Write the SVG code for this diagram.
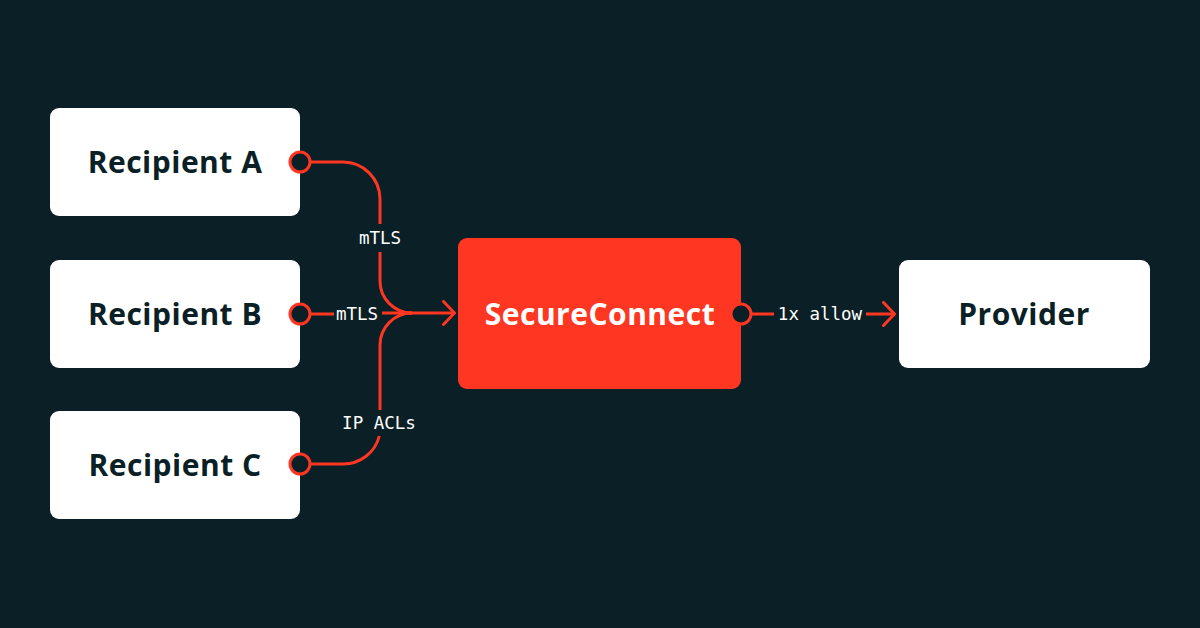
<svg xmlns="http://www.w3.org/2000/svg" width="1200" height="628" viewBox="0 0 1200 628">
<defs>
<style>
.box{fill:#ffffff}
.lbl{font-family:"Open Sans",Inter,"Liberation Sans",sans-serif;font-weight:700;font-size:30px;letter-spacing:0.5px;fill:#0b1f26;text-anchor:middle;dominant-baseline:central}
.wire{fill:none;stroke:#ff3621;stroke-width:3;stroke-linecap:butt;stroke-linejoin:round}
.port{fill:#0b1f26;stroke:#ff3621;stroke-width:3}
.mono{font-family:"DejaVu Sans Mono","Liberation Mono",monospace;font-size:17.5px;fill:#ffffff;text-anchor:middle;dominant-baseline:central}
</style>
<marker id="arr" viewBox="0 0 14 26" refX="13" refY="13" markerWidth="14" markerHeight="26" markerUnits="userSpaceOnUse" orient="auto">
<path d="M1.5,1.5 L12.5,13 L1.5,24.5" fill="none" stroke="#ff3621" stroke-width="3" stroke-linecap="round" stroke-linejoin="round"/>
</marker>
</defs>
<rect width="1200" height="628" fill="#0b1f26"/>
<g id="connectors">
<path class="wire" d="M310,162 H343 A37,37 0 0 1 380,199 V224"/>
<path class="wire" d="M380,252 V281 A32,32 0 0 0 412,313"/>
<path class="wire" d="M310,464 H343 A37,37 0 0 0 379.3,436"/>
<path class="wire" d="M380,410 V345 A32,32 0 0 1 412,313"/>
<path class="wire" d="M310,314 H334"/>
<path class="wire" d="M382,313 H455" marker-end="url(#arr)"/>
<path class="wire" d="M751,314 H774"/>
<path class="wire" d="M866,314 H895" marker-end="url(#arr)"/>
<text class="mono" x="380" y="238">mTLS</text>
<text class="mono" x="357" y="314">mTLS</text>
<text class="mono" x="379" y="423">IP ACLs</text>
<text class="mono" x="820" y="314">1x allow</text>
</g>
<g id="recipient-a">
<rect class="box" x="50" y="108" width="250" height="108" rx="9"/>
<text class="lbl" x="175" y="161">Recipient A</text>
<circle class="port" cx="300" cy="162" r="10"/>
</g>
<g id="recipient-b">
<rect class="box" x="50" y="260" width="250" height="108" rx="9"/>
<text class="lbl" x="175" y="313">Recipient B</text>
<circle class="port" cx="300" cy="314" r="10"/>
</g>
<g id="recipient-c">
<rect class="box" x="50" y="411" width="250" height="108" rx="9"/>
<text class="lbl" x="175" y="464">Recipient C</text>
<circle class="port" cx="300" cy="464" r="10"/>
</g>
<g id="secureconnect">
<rect x="458" y="238" width="283" height="151" rx="9" fill="#ff3621"/>
<text class="lbl" x="600" y="313" style="fill:#ffffff">SecureConnect</text>
<circle class="port" cx="741" cy="314" r="10"/>
</g>
<g id="provider">
<rect class="box" x="899" y="260" width="251" height="108" rx="9"/>
<text class="lbl" x="1024" y="313">Provider</text>
</g>
</svg>
